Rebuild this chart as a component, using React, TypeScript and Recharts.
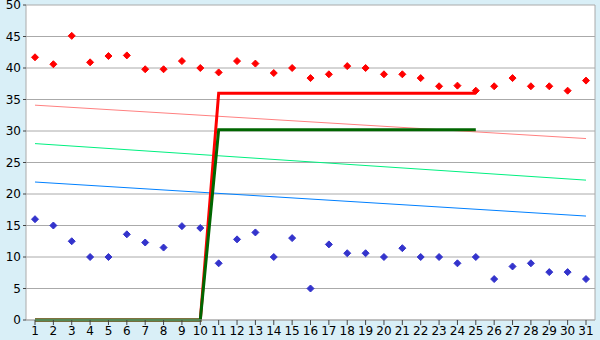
import { ComposedChart, Line, XAxis, YAxis, CartesianGrid } from 'recharts';

const days = [1, 2, 3, 4, 5, 6, 7, 8, 9, 10, 11, 12, 13, 14, 15, 16, 17, 18, 19, 20, 21, 22, 23, 24, 25, 26, 27, 28, 29, 30, 31];

const redPoints = [41.7, 40.6, 45.1, 40.9, 41.9, 42.0, 39.8, 39.8, 41.1, 40.0, 39.3, 41.1, 40.7, 39.2, 40.0, 38.4, 39.0, 40.3, 40.0, 39.0, 39.0, 38.4, 37.1, 37.2, 36.4, 37.1, 38.4, 37.1, 37.1, 36.4, 38.0];
const bluePoints = [16.0, 15.0, 12.5, 10.0, 10.0, 13.6, 12.3, 11.5, 14.9, 14.6, 9.0, 12.8, 13.9, 10.0, 13.0, 5.0, 12.0, 10.6, 10.6, 10.0, 11.4, 10.0, 10.0, 9.0, 10.0, 6.5, 8.5, 9.0, 7.6, 7.6, 6.5];

const redStep = [0, 0, 0, 0, 0, 0, 0, 0, 0, 0, 36, 36, 36, 36, 36, 36, 36, 36, 36, 36, 36, 36, 36, 36, 36, null, null, null, null, null, null];
const greenStep = [0, 0, 0, 0, 0, 0, 0, 0, 0, 0, 30.2, 30.2, 30.2, 30.2, 30.2, 30.2, 30.2, 30.2, 30.2, 30.2, 30.2, 30.2, 30.2, 30.2, 30.2, null, null, null, null, null, null];

// trend lines: value at first and last day
const pinkTrend = [34.1, 28.8];
const greenTrend = [28.0, 22.2];
const blueTrend = [21.9, 16.5];

const yTicks = [0, 5, 10, 15, 20, 25, 30, 35, 40, 45, 50];

const last = days.length - 1;
const ends = (pair: number[], i: number) => (i === 0 ? pair[0] : i === last ? pair[1] : null);

const data = days.map((d, i) => ({
  day: d,
  red: redPoints[i],
  blue: bluePoints[i],
  redStep: redStep[i],
  greenStep: greenStep[i],
  pink: ends(pinkTrend, i),
  green: ends(greenTrend, i),
  blueT: ends(blueTrend, i),
}));

const diamond = (color: string) => (props: any) => {
  const { cx, cy, index } = props;
  if (cx == null || cy == null) return <g key={index} />;
  const r = 3.5;
  return (
    <path
      key={index}
      d={`M${cx},${cy - r}L${cx + r},${cy}L${cx},${cy + r}L${cx - r},${cy}Z`}
      fill={color}
      stroke={color}
      strokeWidth={1}
    />
  );
};

const tickStyle = { fontFamily: 'DejaVu Sans, Verdana, sans-serif', fontSize: 12, fill: '#000' };

export default function App() {
  return (
    <div style={{ position: 'absolute', left: 0, top: 0, width: 600, height: 340, background: '#d9eff7' }}>
      <ComposedChart width={600} height={340} data={data} margin={{ top: 5, right: 0, left: 0, bottom: 0 }}>
        <CartesianGrid vertical={false} stroke="#aaaaaa" fill="#ffffff" />
        <XAxis
          dataKey="day"
          height={20}
          interval={0}
          padding={{ left: 9, right: 9 }}
          tick={tickStyle}
          tickSize={5}
          tickMargin={1}
          stroke="#aaaaaa"
          tickLine={{ stroke: '#444' }}
        />
        <YAxis
          domain={[0, 50]}
          ticks={yTicks}
          interval={0}
          width={26}
          tick={tickStyle}
          tickSize={3}
          tickMargin={2}
          stroke="#aaaaaa"
          tickLine={{ stroke: '#444' }}
        />
        <YAxis
          yAxisId="right"
          orientation="right"
          domain={[0, 50]}
          width={5}
          tick={false}
          tickLine={false}
          stroke="#aaaaaa"
        />
        <Line dataKey="pink" stroke="#ff8080" strokeWidth={1} dot={false} connectNulls isAnimationActive={false} />
        <Line dataKey="green" stroke="#00f080" strokeWidth={1} dot={false} connectNulls isAnimationActive={false} />
        <Line dataKey="blueT" stroke="#0080ff" strokeWidth={1} dot={false} connectNulls isAnimationActive={false} />
        <Line dataKey="red" stroke="none" dot={diamond('#ff0000')} isAnimationActive={false} />
        <Line dataKey="blue" stroke="none" dot={diamond('#3333cc')} isAnimationActive={false} />
        <Line dataKey="redStep" stroke="#ff0000" strokeWidth={3} dot={false} isAnimationActive={false} />
        <Line dataKey="greenStep" stroke="#006600" strokeWidth={3} dot={false} isAnimationActive={false} />
      </ComposedChart>
    </div>
  );
}
